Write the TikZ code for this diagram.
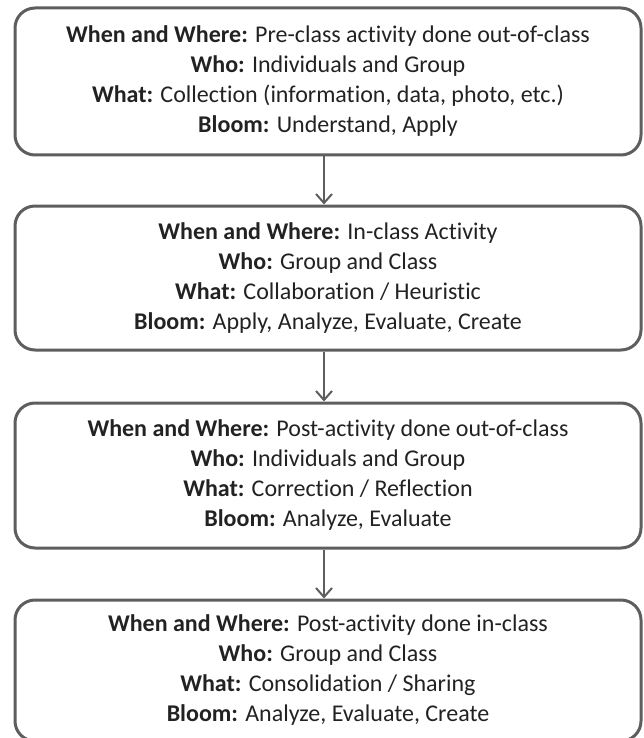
\documentclass[tikz,border=0pt]{standalone}
\usepackage{fontspec}
\setmainfont{Carlito}[Ligatures=NoCommon]
\usetikzlibrary{arrows.meta}
\definecolor{boxline}{HTML}{5E5E5E}
\definecolor{txt}{HTML}{222222}
\begin{document}
\begin{tikzpicture}[x=1pt,y=-1pt,
  stage/.style={draw=boxline, line width=3pt, rounded corners=20pt,
    minimum width=626pt, inner sep=0pt, align=center, text=txt,
    font=\fontsize{24}{30}\selectfont},
  flow/.style={draw=boxline, line width=2pt, -{Straight Barb[length=9pt,width=16pt,line width=2pt]}}]
\useasboundingbox (0,0) rectangle (644,738);
\node[stage, minimum height=147pt] (b1) at (328,81.5) {%
  \textbf{When and Where:} Pre-class activity done out-of-class\\
  \textbf{Who:} Individuals and Group\\
  \textbf{What:} Collection (information, data, photo, etc.)\\
  \textbf{Bloom:} Understand, Apply};
\node[stage, minimum height=144pt] (b2) at (328,278) {%
  \textbf{When and Where:} In-class Activity\\
  \textbf{Who:} Group and Class\\
  \textbf{What:} Collaboration / Heuristic\\
  \textbf{Bloom:} Apply, Analyze, Evaluate, Create};
\node[stage, minimum height=145pt] (b3) at (328,475.5) {%
  \textbf{When and Where:} Post-activity done out-of-class\\
  \textbf{Who:} Individuals and Group\\
  \textbf{What:} Correction / Reflection\\
  \textbf{Bloom:} Analyze, Evaluate};
\node[stage, minimum height=141pt] (b4) at (328,670.5) {%
  \textbf{When and Where:} Post-activity done in-class\\
  \textbf{Who:} Group and Class\\
  \textbf{What:} Consolidation / Sharing\\
  \textbf{Bloom:} Analyze, Evaluate, Create};
\draw[flow] ([xshift=-4pt]b1.south) -- ([xshift=-4pt]b2.north);
\draw[flow] ([xshift=-4pt]b2.south) -- ([xshift=-4pt]b3.north);
\draw[flow] ([xshift=-4pt]b3.south) -- ([xshift=-4pt]b4.north);
\end{tikzpicture}
\end{document}
